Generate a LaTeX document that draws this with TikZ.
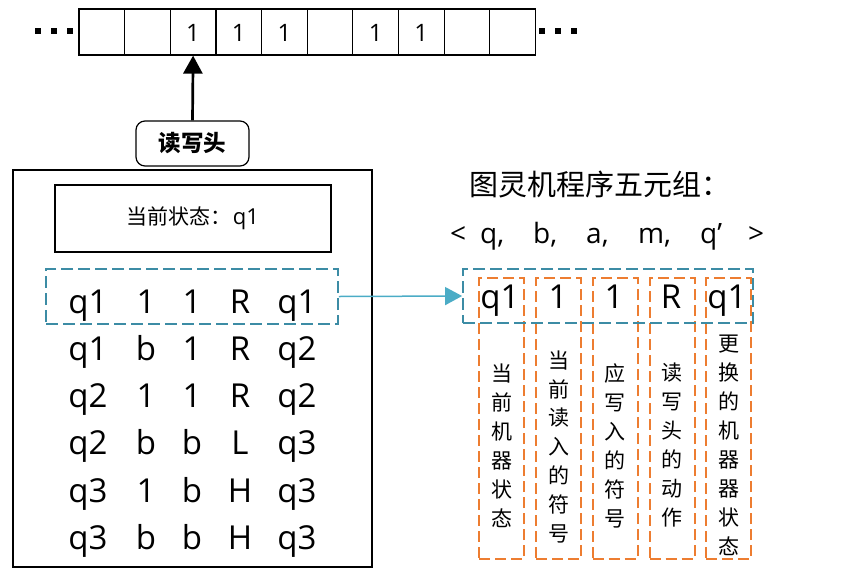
\documentclass[tikz,border=0pt]{standalone}
\usepackage{fontspec}
\setmainfont{Open Sans}
\newfontfamily\cjk{Noto Sans CJK SC}
\usetikzlibrary{arrows.meta}
\definecolor{tealdash}{RGB}{60,140,165}
\definecolor{tealarrow}{RGB}{75,172,198}
\definecolor{orangedash}{RGB}{237,125,49}
\tikzset{
  tapecell/.style={draw,line width=1.2pt,minimum width=45.65pt,minimum height=46pt,inner sep=0pt},
  tapedot/.style={fill=black,minimum size=6pt,inner sep=0pt},
  tapeone/.style={anchor=base,inner sep=0pt,font=\fontsize{24}{26}\selectfont},
  rowtext/.style={anchor=base,inner sep=0pt,font=\fontsize{33}{38}\selectfont},
  tealbox/.style={draw=tealdash,line width=1.8pt,dash pattern=on 12pt off 5pt,inner sep=0pt},
  orangebox/.style={draw=orangedash,line width=2pt,dash pattern=on 11pt off 5pt,inner sep=0pt,minimum width=45pt,minimum height=281pt},
  vtext/.style={align=center,inner sep=0pt,font=\cjk\fontsize{21}{29}\selectfont},
  quint/.style={anchor=base west,inner sep=0pt,font=\fontsize{28}{32}\selectfont}
}
\begin{document}
\begin{tikzpicture}[x=1pt,y=-1pt]
\useasboundingbox (0,0) rectangle (855,574);
% tape
\foreach \i in {0,...,9}{
  \node[tapecell] (cell\i) at ({79+45.65*\i+22.8},32) {};
}
\foreach \i in {2,3,4,6,7}{
  \node[tapeone] (one\i) at ([yshift=-9pt]cell\i.center) {1};
}
\foreach \i/\x in {1/38,2/54,3/70,4/541.5,5/558,6/574}{
  \node[tapedot] (dot\i) at (\x,31) {};
}
% read head
\node[draw,line width=1.2pt,rounded corners=9pt,minimum width=113pt,minimum height=45pt,inner sep=0pt,font=\cjk\bfseries\fontsize{22.5}{25}\selectfont] (head) at (192.5,143.5) {读写头};
\draw[line width=2.7pt,-{Triangle[length=18pt,width=19pt]}] (head.north) -- (cell2.south);
% main box
\draw[line width=2.5pt] (13,170) rectangle (372,567);
\node[draw,line width=2.5pt,minimum width=276pt,minimum height=67pt,inner sep=0pt,font=\fontsize{22}{26}\selectfont] (state) at (193,218.5) {{\cjk\fontsize{21}{26}\selectfont 当前状态：}\hspace{1pt}q1};
% rows
\foreach \r/\y/\a/\b/\c/\d/\e in {1/313/q1/1/1/R/q1, 2/360/q1/b/1/R/q2, 3/407/q2/1/1/R/q2, 4/454.5/q2/b/b/L/q3, 5/502/q3/1/b/H/q3, 6/549/q3/b/b/H/q3}{
  \node[rowtext] (r\r a) at (88,\y) {\a};
  \node[rowtext] (r\r b) at (146,\y) {\b};
  \node[rowtext] (r\r c) at (192,\y) {\c};
  \node[rowtext] (r\r d) at (240,\y) {\d};
  \node[rowtext] (r\r e) at (297,\y) {\e};
}
\node[tealbox,minimum width=292pt,minimum height=55pt] (ldash) at (192,296.5) {};
% title
\node[font=\cjk\fontsize{29}{32}\selectfont,inner sep=0pt] (title) at (600,184) {图灵机程序五元组：};
\node[quint] (t0) at (450,243) {<};
\node[quint] (t1) at (480,243) {q,};
\node[quint] (t2) at (533,243) {b,};
\node[quint] (t3) at (586,243) {a,};
\node[quint] (t4) at (638,243) {m,};
\node[quint] (t5) at (700,243) {q’};
\node[quint] (t6) at (748,243) {>};
% orange columns
\foreach \i/\x in {1/501.5,2/558.5,3/615,4/672,5/728.5}{
  \node[orangebox] (col\i) at (\x,418.5) {};
}
\node[tealbox,minimum width=290pt,minimum height=54pt] (rdash) at (608,296) {};
\foreach \i/\x/\t in {1/500/q1,2/558/1,3/614/1,4/671/R,5/727/q1}{
  \node[rowtext] (s\i) at (\x,308) {\t};
}
\node[vtext] (v1) at (501.5,445.5) {当\\前\\机\\器\\状\\态};
\node[vtext] (v2) at (558.5,447) {当\\前\\读\\入\\的\\符\\号};
\node[vtext] (v3) at (615,445.5) {应\\写\\入\\的\\符\\号};
\node[vtext] (v4) at (672,445.5) {读\\写\\头\\的\\动\\作};
\node[vtext] (v5) at (728.5,445) {更\\换\\的\\机\\器\\器\\状\\态};
% connector
\draw[tealarrow,line width=1.5pt,-{Triangle[length=17pt,width=18pt]}] (ldash.east) -- (rdash.west);
\end{tikzpicture}
\end{document}
